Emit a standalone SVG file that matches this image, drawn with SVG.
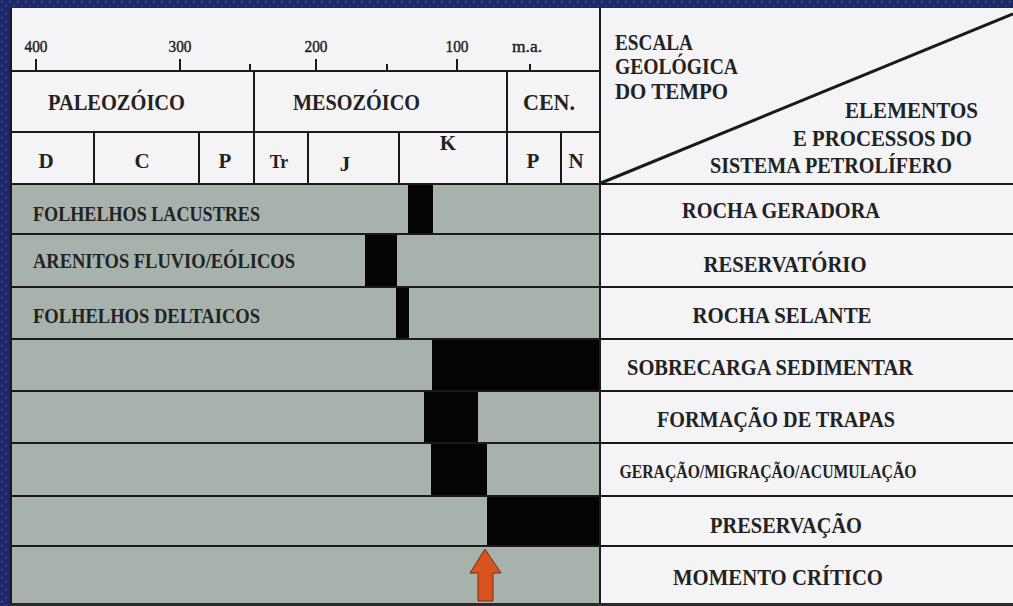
<svg xmlns="http://www.w3.org/2000/svg" width="1013" height="606" viewBox="0 0 1013 606">
<defs>
<pattern id="dots" width="8" height="8" patternUnits="userSpaceOnUse">
<rect width="8" height="8" fill="#1c2868"/>
<rect x="1" y="1" width="1.5" height="1.5" fill="#3d6f86"/>
<rect x="5" y="5" width="1.5" height="1.5" fill="#2f5a86"/>
</pattern>
<style>
.t{font-family:"Liberation Serif","Times New Roman",serif;font-weight:bold;fill:#222}
.n{font-size:16px;font-weight:normal;stroke:#222;stroke-width:0.4}
.era{font-size:24px}
.per{font-size:21px;text-anchor:middle}
.hd{font-size:23px}
.rl{font-size:24px;text-anchor:middle}
.ll{font-size:21px}
.ln{stroke:#1a1a1a;stroke-width:2;fill:none}
.gr{fill:#a7b2ac}
.bk{fill:#050505}
</style>
</defs>
<rect width="1013" height="606" fill="url(#dots)"/>
<rect x="9" y="7" width="1004" height="599" fill="#2a2a2a"/>
<rect x="11" y="8" width="1002" height="595" fill="#f4f4f6"/>

<g id="escala-tempo">
<g id="escala-numerica">
<text class="t n" x="36" y="52" text-anchor="middle" textLength="23" lengthAdjust="spacingAndGlyphs">400</text>
<text class="t n" x="180" y="52" text-anchor="middle" textLength="23" lengthAdjust="spacingAndGlyphs">300</text>
<text class="t n" x="316" y="52" text-anchor="middle" textLength="23" lengthAdjust="spacingAndGlyphs">200</text>
<text class="t n" x="457" y="52" text-anchor="middle" textLength="23" lengthAdjust="spacingAndGlyphs">100</text>
<text class="t n" x="527" y="52" text-anchor="middle" textLength="30" lengthAdjust="spacingAndGlyphs">m.a.</text>
<path class="ln" d="M36 59V71M180 59V71M250 64V71M316 59V71M387 64V71M457 59V71M530 64V71"/>
</g>
<g id="eras">
<text class="t era" x="48" y="110" textLength="137" lengthAdjust="spacingAndGlyphs">PALEOZÓICO</text>
<text class="t era" x="293" y="110" textLength="127" lengthAdjust="spacingAndGlyphs">MESOZÓICO</text>
<text class="t era" x="523" y="110" textLength="52" lengthAdjust="spacingAndGlyphs">CEN.</text>
</g>
<g id="periodos">
<text class="t per" x="46" y="168">D</text>
<text class="t per" x="142" y="168">C</text>
<text class="t per" x="225" y="168">P</text>
<text class="t per" x="279" y="168" style="font-size:18px">Tr</text>
<text class="t per" x="345" y="171">J</text>
<text class="t per" x="448" y="150">K</text>
<text class="t per" x="533" y="168">P</text>
<text class="t per" x="576" y="168">N</text>
</g>
<path class="ln" d="M11 71H600M11 132H600M254 71V184M507 71V184M94 132V184M199 132V184M308 132V184M399 132V184M561 132V184"/>
</g>

<g id="cabecalho-direito">
<text class="t hd" x="615" y="50" textLength="78" lengthAdjust="spacingAndGlyphs">ESCALA</text>
<text class="t hd" x="615" y="74" textLength="123" lengthAdjust="spacingAndGlyphs">GEOLÓGICA</text>
<text class="t hd" x="615" y="99" textLength="113" lengthAdjust="spacingAndGlyphs">DO TEMPO</text>
<text class="t hd" x="845" y="118" textLength="133" lengthAdjust="spacingAndGlyphs">ELEMENTOS</text>
<text class="t hd" x="793" y="146" textLength="179" lengthAdjust="spacingAndGlyphs">E PROCESSOS DO</text>
<text class="t hd" x="710" y="173" textLength="242" lengthAdjust="spacingAndGlyphs">SISTEMA PETROLÍFERO</text>
<line class="ln" x1="601" y1="183" x2="1013" y2="14" style="stroke-width:3"/>
</g>

<g id="painel-barras">
<rect class="gr" x="11" y="184" width="589" height="419"/>
</g>

<g id="row-rocha-geradora">
<rect class="bk" x="408" y="185" width="25" height="49"/>
<text class="t ll" x="33" y="221" textLength="227" lengthAdjust="spacingAndGlyphs">FOLHELHOS LACUSTRES</text>
<text class="t rl" x="781" y="218" textLength="198" lengthAdjust="spacingAndGlyphs">ROCHA GERADORA</text>
</g>
<g id="row-reservatorio">
<rect class="bk" x="365" y="234" width="32" height="53"/>
<text class="t ll" x="33" y="268" textLength="262" lengthAdjust="spacingAndGlyphs">ARENITOS FLUVIO/EÓLICOS</text>
<text class="t rl" x="785" y="272" textLength="163" lengthAdjust="spacingAndGlyphs">RESERVATÓRIO</text>
</g>
<g id="row-rocha-selante">
<rect class="bk" x="396" y="286" width="13" height="53"/>
<text class="t ll" x="33" y="323" textLength="227" lengthAdjust="spacingAndGlyphs">FOLHELHOS DELTAICOS</text>
<text class="t rl" x="782" y="323" textLength="179" lengthAdjust="spacingAndGlyphs">ROCHA SELANTE</text>
</g>
<g id="row-sobrecarga">
<rect class="bk" x="432" y="339" width="168" height="53"/>
<text class="t rl" x="770" y="375" textLength="286" lengthAdjust="spacingAndGlyphs">SOBRECARGA SEDIMENTAR</text>
</g>
<g id="row-formacao-trapas">
<rect class="bk" x="424" y="391" width="54" height="52"/>
<text class="t rl" x="776" y="427" textLength="238" lengthAdjust="spacingAndGlyphs">FORMAÇÃO DE TRAPAS</text>
</g>
<g id="row-geracao">
<rect class="bk" x="431" y="443" width="56" height="53"/>
<text class="t rl" x="768" y="478" style="font-size:18px" textLength="297" lengthAdjust="spacingAndGlyphs">GERAÇÃO/MIGRAÇÃO/ACUMULAÇÃO</text>
</g>
<g id="row-preservacao">
<rect class="bk" x="487" y="496" width="113" height="50"/>
<text class="t rl" x="786" y="533" textLength="152" lengthAdjust="spacingAndGlyphs">PRESERVAÇÃO</text>
</g>
<g id="row-momento-critico">
<text class="t rl" x="778" y="585" textLength="210" lengthAdjust="spacingAndGlyphs">MOMENTO CRÍTICO</text>
</g>

<g id="connectors">
<path class="ln" d="M11 184H1013M11 234H1013M11 287H1013M11 339H1013M11 391H1013M11 443H1013M11 496H1013M11 546H1013M600 8V603M11 8V603"/>
<polygon points="485,549 501,573 493,573 493,601 478,601 478,573 470,573" fill="#d9531f" stroke="#7a2a10" stroke-width="1"/>
</g>
</svg>
